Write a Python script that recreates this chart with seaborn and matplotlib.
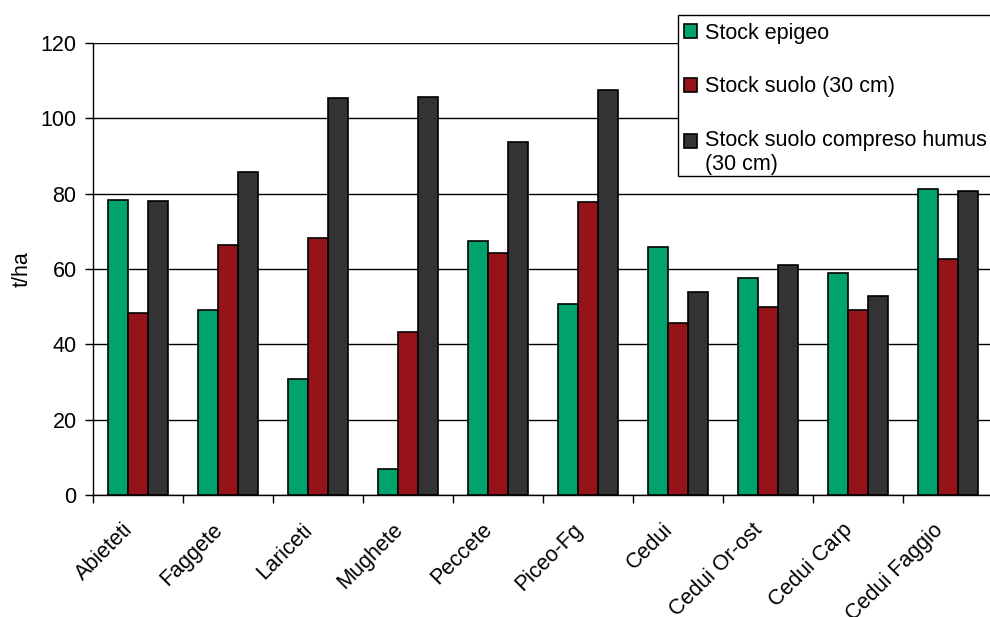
import matplotlib
matplotlib.use("Agg")
import matplotlib.pyplot as plt
import matplotlib.transforms as mtransforms
from matplotlib.legend_handler import HandlerPatch
import seaborn as sns
import pandas as pd
import numpy as np
from matplotlib.ticker import FixedLocator

categories = ["Abieteti", "Faggete", "Lariceti", "Mughete", "Peccete", "Piceo-Fg",
              "Cedui", "Cedui Or-ost", "Cedui Carp", "Cedui Faggio"]
stock_epigeo = [78.2, 49.2, 30.9, 6.9, 67.4, 50.6, 65.9, 57.7, 59.0, 81.3]
stock_suolo = [48.3, 66.4, 68.2, 43.4, 64.3, 77.7, 45.6, 49.8, 49.0, 62.6]
stock_humus = [78.1, 85.8, 105.4, 105.7, 93.8, 107.5, 54.0, 61.1, 52.9, 80.8]
series_names = ["Stock epigeo", "Stock suolo (30 cm)", "Stock suolo compreso humus\n(30 cm)"]
colors = ["#00A36C", "#961419", "#333333"]
yticks = [0, 20, 40, 60, 80, 100, 120]

FS = 15.5
W, H = 990, 617

sns.set_style("white")
plt.rcParams["font.family"] = ["Liberation Sans", "DejaVu Sans"]
for k in ["text.color", "axes.labelcolor", "xtick.color", "ytick.color", "axes.edgecolor"]:
    plt.rcParams[k] = "black"

rows = []
for name, vals in zip(series_names, [stock_epigeo, stock_suolo, stock_humus]):
    for c, v in zip(categories, vals):
        rows.append({"cat": c, "val": v, "series": name})
df = pd.DataFrame(rows)

fig = plt.figure(figsize=(W / 100, H / 100), dpi=100)
ax = fig.add_axes([93 / W, 1 - 495 / H, 900 / W, 452 / H])

sns.barplot(data=df, x="cat", y="val", hue="series", palette=colors,
            order=categories, hue_order=series_names,
            width=0.667, gap=0, edgecolor="black", linewidth=1.2,
            saturation=1, errorbar=None, ax=ax, zorder=3)

ax.set_xlim(-0.5, len(categories) - 0.5)
ax.set_ylim(0, 120)
ax.set_yticks(yticks)
ax.yaxis.grid(True, color="black", linewidth=1)
ax.set_axisbelow(True)

for s in ["top", "right"]:
    ax.spines[s].set_visible(False)
for s in ["left", "bottom"]:
    ax.spines[s].set_color("black")
    ax.spines[s].set_linewidth(1)

ax.tick_params(axis="y", length=6, width=1, color="black", labelsize=FS, pad=5.8, left=True)
ax.xaxis.set_minor_locator(FixedLocator(np.arange(-0.5, len(categories), 1.0)))
ax.tick_params(axis="x", which="major", length=0, labelsize=FS, pad=14)
ax.tick_params(axis="x", which="minor", length=6, width=1, color="black", bottom=True)
ax.set_xticks(range(len(categories)))
ax.set_xticklabels(categories, rotation=45, ha="right", rotation_mode="anchor")
offset = mtransforms.ScaledTranslation(-0.16, -0.05, fig.dpi_scale_trans)
for lab in ax.get_xticklabels():
    lab.set_transform(lab.get_transform() + offset)

ax.set_xlabel("")
ax.set_ylabel("t/ha", fontsize=FS)
ax.yaxis.set_label_coords(-0.0676, 0.5)

ax.get_legend().remove()
handles = [plt.Rectangle((0, 0), 1, 1, facecolor=c, edgecolor="black", linewidth=1.2) for c in colors]


def shifted_patch(legend, orig_handle, xdescent, ydescent, width, height, fontsize):
    return plt.Rectangle((-xdescent, -ydescent + 0.55 * fontsize), width, height)


# legend frame (white box with black border)
box = plt.Rectangle((678 / W, 1 - 176 / H), 330 / W, 161 / H, transform=fig.transFigure,
                    facecolor="white", edgecolor="black", linewidth=1, zorder=4)
fig.patches.append(box)

leg = fig.legend(handles, series_names, loc="upper left",
                 bbox_to_anchor=(674 / W, 1 - 13 / H), bbox_transform=fig.transFigure,
                 fontsize=FS, frameon=False,
                 borderaxespad=0, borderpad=0.45, labelspacing=1.52,
                 handlelength=0.62, handleheight=0.62, handletextpad=0.35,
                 handler_map={handles[2]: HandlerPatch(patch_func=shifted_patch)})
leg.set_zorder(5)

fig.savefig("out.png", dpi=100)
